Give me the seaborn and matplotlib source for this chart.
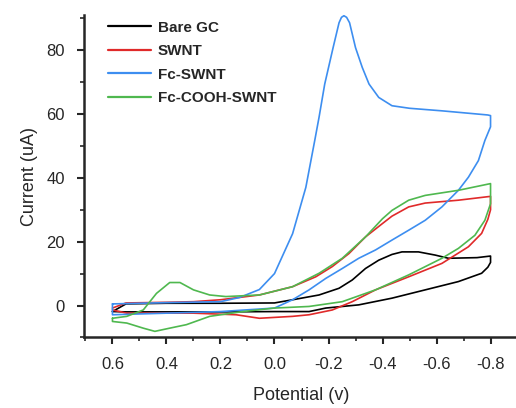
import numpy as np
import pandas as pd
import matplotlib
matplotlib.use("Agg")
import matplotlib.pyplot as plt
from matplotlib.ticker import MultipleLocator
import seaborn as sns

# cyclic voltammograms: potential (V) and current (uA)
bare_v = [0.6, 0.55, 0.4, 0.2, 0.0, -0.067, -0.165, -0.239, -0.288, -0.337, -0.386, -0.435, -0.472,
          -0.533, -0.595, -0.644, -0.75, -0.8, -0.8, -0.79, -0.767, -0.681, -0.558, -0.435, -0.312,
          -0.19, -0.128, 0.0, 0.2, 0.4, 0.55, 0.6]
bare_i = [-1.9, 0.5, 0.7, 0.7, 0.8, 1.8, 3.3, 5.4, 8.0, 11.6, 14.2, 16.0, 16.8,
          16.8, 15.8, 14.8, 15.0, 15.5, 13.5, 12.0, 10.1, 7.5, 4.9, 2.3, 0.2,
          -0.8, -1.9, -1.9, -2.0, -2.0, -2.0, -1.9]

swnt_v = [0.6, 0.55, 0.4, 0.3, 0.2, 0.056, -0.067, -0.153, -0.214, -0.276, -0.337, -0.4, -0.435,
          -0.497, -0.558, -0.681, -0.8, -0.8, -0.79, -0.767, -0.718, -0.62, -0.497, -0.374,
          -0.288, -0.214, -0.128, -0.067, 0.056, 0.142, 0.3, 0.547, 0.6]
swnt_i = [-0.8, 0.8, 1.0, 1.2, 1.8, 3.3, 5.9, 9.0, 12.2, 16.3, 21.5, 25.7, 28.0,
          30.9, 32.1, 33.0, 34.2, 30.0, 27.0, 22.6, 18.4, 13.2, 9.0, 4.9,
          1.2, -1.4, -2.9, -3.4, -4.0, -2.9, -2.4, -2.4, -1.4]

fc_v = [0.6, 0.4, 0.2, 0.13, 0.056, 0.0, -0.067, -0.116, -0.149, -0.165, -0.186, -0.217, -0.239,
        -0.248, -0.257, -0.267, -0.278, -0.30, -0.325, -0.35, -0.386, -0.435, -0.5, -0.62, -0.79,
        -0.8, -0.8, -0.779, -0.755, -0.718, -0.681, -0.62, -0.558, -0.497, -0.435, -0.374, -0.312,
        -0.251, -0.19, -0.128, -0.067, 0.0, 0.2, 0.4, 0.6, 0.6]
fc_i = [0.5, 0.9, 1.2, 2.5, 5.0, 10.0, 22.5, 37.0, 51.7, 59.0, 69.4, 80.8, 88.6,
        90.3, 90.8, 90.3, 88.6, 80.8, 74.6, 69.4, 65.2, 62.6, 61.8, 61.0, 59.7,
        59.5, 56.0, 51.7, 45.4, 40.2, 36.1, 30.9, 26.7, 23.6, 20.5, 17.4, 14.8,
        11.6, 8.5, 4.9, 1.8, -0.8, -1.9, -2.4, -2.9, 0.5]

cooh_v = [0.6, 0.547, 0.486, 0.437, 0.388, 0.35, 0.3, 0.24, 0.18, 0.056, -0.067, -0.165, -0.251,
          -0.337, -0.4, -0.435, -0.497, -0.558, -0.681, -0.8, -0.8, -0.779, -0.742, -0.681, -0.62,
          -0.497, -0.374, -0.251, -0.128, 0.0, 0.117, 0.24, 0.326, 0.388, 0.443, 0.486, 0.547, 0.6, 0.6]
cooh_i = [-4.0, -3.4, -1.4, 3.8, 7.2, 7.2, 4.9, 3.3, 2.8, 3.3, 5.9, 10.1, 14.8,
          21.5, 27.2, 29.8, 33.0, 34.5, 36.1, 38.2, 31.9, 26.7, 22.0, 17.9, 14.8,
          9.6, 4.9, 1.2, -0.3, -0.8, -1.9, -3.4, -6.0, -7.1, -8.1, -7.1, -5.5, -5.0, -4.0]

names = ["Bare GC", "SWNT", "Fc-SWNT", "Fc-COOH-SWNT"]
colors = ["#000000", "#e02a2a", "#3d8ef0", "#4fb84f"]

frames = []
for name, v, i in zip(names, [bare_v, swnt_v, fc_v, cooh_v], [bare_i, swnt_i, fc_i, cooh_i]):
    frames.append(pd.DataFrame({"Potential": v, "Current": i, "sample": name, "step": range(len(v))}))
data = pd.concat(frames, ignore_index=True)

sns.set_style("ticks")
plt.rcParams["font.family"] = ["Liberation Sans", "DejaVu Sans"]

fig = plt.figure(figsize=(5.16, 4.08), dpi=100)
ax = fig.add_axes([0.163, 0.173, 0.84, 0.79])
sns.lineplot(data=data, x="Potential", y="Current", hue="sample", hue_order=names,
             palette=colors, sort=False, estimator=None, units="sample", lw=1.2, ax=ax)

ax.set_xlim(0.705, -0.9)
ax.set_ylim(-10, 91)
ax.xaxis.set_major_locator(MultipleLocator(0.2))
ax.xaxis.set_minor_locator(MultipleLocator(0.1))
ax.yaxis.set_major_locator(MultipleLocator(20))
ax.yaxis.set_minor_locator(MultipleLocator(10))
ax.set_xticks(np.arange(0.6, -0.81, -0.2))
ax.set_xticklabels(["0.6", "0.4", "0.2", "0.0", "-0.2", "-0.4", "-0.6", "-0.8"])
ax.tick_params(which="major", direction="out", length=5, width=1.5, labelsize=12, pad=9)
ax.tick_params(which="minor", direction="out", length=3, width=1.2)
for s in ["left", "bottom"]:
    ax.spines[s].set_linewidth(1.8)
sns.despine(ax=ax)
ax.set_xlabel("Potential (v)", fontsize=13, labelpad=11)
ax.set_ylabel("Current (uA)", fontsize=13, labelpad=6)

leg = ax.legend(loc="upper left", bbox_to_anchor=(0.024, 1.025), frameon=False, handlelength=2.8,
                handletextpad=0.45, labelspacing=0.62, prop={"weight": "bold", "size": 11})
for line in leg.get_lines():
    line.set_linewidth(1.6)

fig.savefig("out.png", dpi=100)
